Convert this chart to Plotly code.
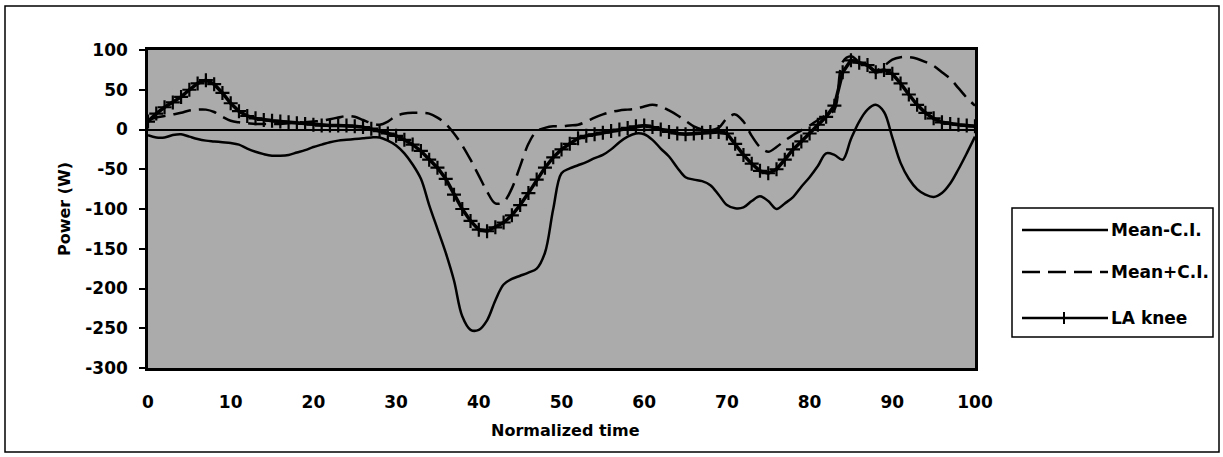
import plotly.graph_objects as go

# Normalized time (% of cycle)
time_pct = list(range(0, 101))

mean_minus_ci = [
    -7, -10, -10, -7, -6, -9, -12, -14, -15, -16,
    -17, -19, -24, -28, -31, -33, -33, -32, -29, -26,
    -22, -19, -16, -14, -13, -12, -11, -10, -10, -14,
    -20, -30, -44, -62, -95, -125, -155, -190, -235, -252,
    -252, -240, -215, -195, -188, -184, -180, -175, -155, -100,
    -55, -49, -45, -41, -36, -32, -25, -16, -9, -5,
    -6, -13, -24, -34, -48, -60, -63, -65, -70, -82,
    -95, -99, -98, -90, -84, -90, -100, -93, -85, -72,
    -60, -46, -30, -32, -38, -12, 10, 25, 31, 22,
    -10, -42, -62, -75, -82, -85, -80, -68, -50, -30,
    -9,
]

mean_plus_ci = [
    12, 15, 17, 19, 21, 24, 25, 25, 22, 16,
    11, 9, 8, 7, 7, 7, 7, 8, 9, 9,
    10, 11, 13, 15, 17, 16, 12, 8, 6, 10,
    17, 20, 21, 21, 20, 15, 7, -5, -20, -38,
    -58, -78, -93, -91, -74, -46, -18, -2, 2, 4,
    4, 5, 6, 10, 15, 19, 22, 24, 25, 26,
    29, 31, 29, 24, 18, 11, 4, 0, -1, 2,
    14, 19, 10, -8, -22, -28, -22, -14, -7, -1,
    5, 12, 18, 25, 85, 92, 85, 80, 74, 80,
    88, 91, 91, 89, 85, 80, 72, 64, 52, 40,
    30,
]

la_knee = [
    10, 20, 28, 34, 41, 50, 58, 62, 57, 46,
    33, 23, 17, 14, 12, 11, 10, 9, 8, 7,
    6, 5, 5, 5, 5, 4, 3, 1, -2, -5,
    -8, -13, -19, -27, -38, -48, -62, -82, -100, -115,
    -126, -128, -123, -117, -108, -95, -80, -63, -48, -35,
    -25, -18, -11, -8, -6, -4, -2, 0, 2, 4,
    5, 3, 0, -3, -5, -6, -5, -4, -3, -3,
    -5, -18, -32, -43, -52, -55, -50, -38, -25, -15,
    -5, 6, 16, 30, 72, 87, 84, 81, 72, 75,
    70, 58, 44, 31, 21, 14, 9, 7, 6, 5,
    4,
]

series_names = ["Mean-C.I.", "Mean+C.I.", "LA knee"]
x_ticks = [0, 10, 20, 30, 40, 50, 60, 70, 80, 90, 100]
y_ticks = [-300, -250, -200, -150, -100, -50, 0, 50, 100]
y_tick_text = ["-300", "-250", "-200", "-150", "-100", "-50", "0", "50", "100"]

FONT = dict(family="DejaVu Sans", size=17, color="black", weight="bold")
TITLE_FONT = dict(family="DejaVu Sans", size=16, color="black", weight="bold")
DASH = "18px,8px"

fig = go.Figure()
fig.add_trace(go.Scatter(
    x=time_pct, y=mean_minus_ci, name=series_names[0], mode="lines",
    line=dict(color="black", width=2.5), line_shape="spline",
))
fig.add_trace(go.Scatter(
    x=time_pct, y=mean_plus_ci, name=series_names[1], mode="lines",
    line=dict(color="black", width=2.5, dash=DASH), line_shape="spline",
))
fig.add_trace(go.Scatter(
    x=time_pct, y=la_knee, name=series_names[2], mode="lines+markers",
    line=dict(color="black", width=3.5),
    marker=dict(symbol="cross-thin", size=10, line=dict(color="black", width=2.2)),
))

# Plot area occupies x 148..975, y 50..368 on a 1223x457 page
W, H = 1223, 457
L, R, T, B = 148, 975, 50, 368


def px(xp):
    return (xp - L) / (R - L)


def py(yp):
    return (B - yp) / (B - T)


shapes = [
    # outer chart frame
    dict(type="rect", xref="paper", yref="paper",
         x0=px(5), x1=px(1219), y0=py(452), y1=py(6),
         line=dict(color="black", width=1.5), layer="below"),
    # legend box
    dict(type="rect", xref="paper", yref="paper",
         x0=px(1012), x1=px(1213), y0=py(337), y1=py(208),
         line=dict(color="black", width=1.5), fillcolor="white"),
]

annotations = []
legend_rows = [230, 272, 318]
for name, yrow, dash in zip(series_names, legend_rows, ["solid", DASH, "solid"]):
    shapes.append(dict(type="line", xref="paper", yref="paper",
                       x0=px(1022), x1=px(1108), y0=py(yrow), y1=py(yrow),
                       line=dict(color="black", width=2.5, dash=dash)))
    annotations.append(dict(text=name, xref="paper", yref="paper",
                            x=px(1109), y=py(yrow), xanchor="left", yanchor="middle",
                            showarrow=False, font=FONT))
# marker glyph on the LA knee legend sample
shapes.append(dict(type="line", xref="paper", yref="paper",
                   x0=px(1064), x1=px(1064), y0=py(yrow - 6), y1=py(yrow + 6),
                   line=dict(color="black", width=2)))

annotations.append(dict(text="Power (W)", xref="paper", yref="paper",
                        x=px(64), y=py(209), textangle=-90, showarrow=False,
                        xanchor="center", yanchor="middle", font=TITLE_FONT))
annotations.append(dict(text="Normalized time", xref="paper", yref="paper",
                        x=px(565), y=py(430), showarrow=False,
                        xanchor="center", yanchor="middle", font=TITLE_FONT))

fig.update_layout(
    width=W, height=H,
    margin=dict(l=L, r=W - R, t=T, b=H - B, pad=0),
    paper_bgcolor="white",
    plot_bgcolor="#ababab",
    showlegend=False,
    shapes=shapes,
    annotations=annotations,
    font=FONT,
)
fig.update_xaxes(
    range=[0, 100], tickvals=x_ticks, ticks="", showgrid=False, zeroline=False,
    showline=True, linecolor="black", linewidth=2.5, mirror=True,
    ticklabelstandoff=17, tickfont=FONT,
)
fig.update_yaxes(
    range=[-300, 100], tickvals=y_ticks, ticktext=y_tick_text,
    ticks="outside", ticklen=6,
    tickwidth=1.5, tickcolor="black", showgrid=False,
    zeroline=True, zerolinecolor="black", zerolinewidth=1.5,
    showline=True, linecolor="black", linewidth=2.5, mirror=True,
    ticklabelstandoff=8, tickfont=FONT,
)

fig.write_html("out.html")
